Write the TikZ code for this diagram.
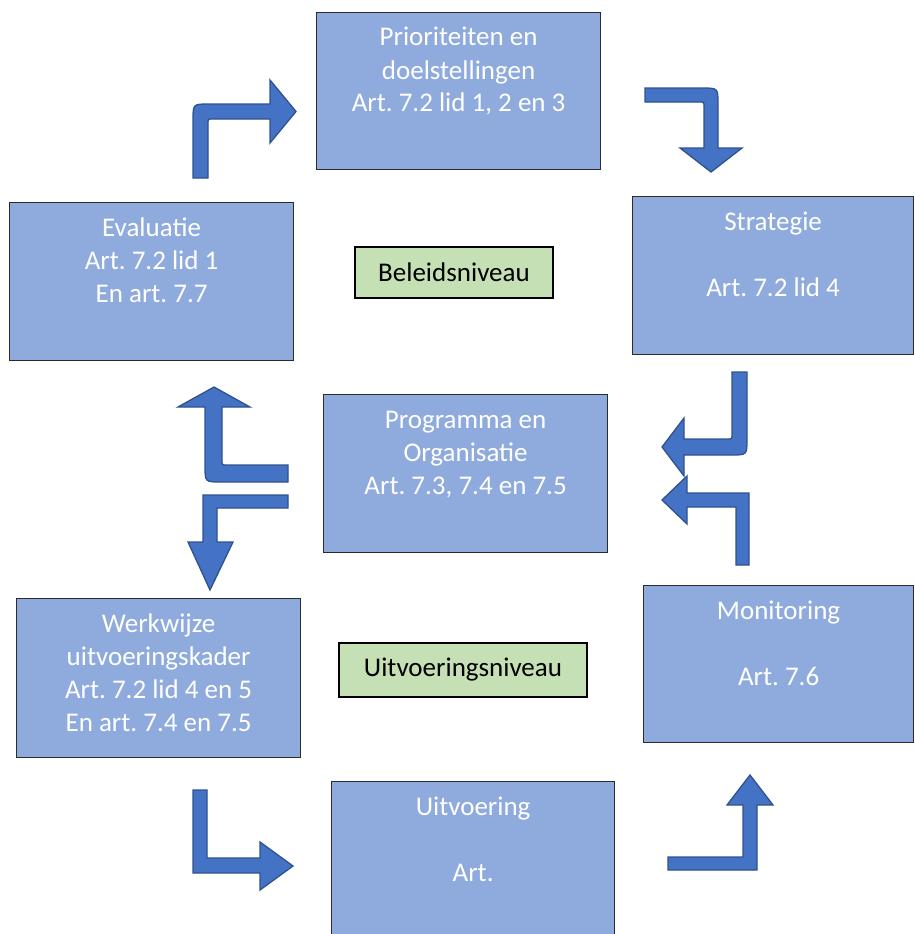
\documentclass[tikz,border=0pt]{standalone}
\usepackage{fontspec}
\setmainfont{Carlito}
\frenchspacing
\definecolor{boxblue}{HTML}{8FAADC}
\definecolor{boxedge}{HTML}{2B2B2B}
\definecolor{arrowblue}{HTML}{4472C4}
\definecolor{arrowedge}{HTML}{2F528F}
\definecolor{levelgreen}{HTML}{C5E0B4}
\begin{document}
\begin{tikzpicture}[x=1pt,y=-1pt,
  bbox/.style={draw=boxedge, line width=1.2pt, fill=boxblue, anchor=north west, inner sep=0pt},
  btext/.style={text=white, anchor=base, inner sep=0pt, font=\fontsize{27}{33}\selectfont},
  level/.style={draw=black, line width=2pt, fill=levelgreen, inner sep=0pt, font=\fontsize{27}{33}\selectfont},
  blockarrow/.style={fill=arrowblue, draw=arrowedge, line width=1.3pt, line join=miter}]
\useasboundingbox (0,0) rectangle (914,934);
\clip (0,0) rectangle (914,934);
% boxes
\node[bbox, minimum width=284pt, minimum height=157pt] (prio) at (316,12) {};
\node[bbox, minimum width=281pt, minimum height=158pt] (strat) at (632,196) {};
\node[bbox, minimum width=284pt, minimum height=158pt] (eval) at (9,202) {};
\node[bbox, minimum width=284pt, minimum height=158pt] (prog) at (323,394) {};
\node[bbox, minimum width=284pt, minimum height=159pt] (werk) at (16,598) {};
\node[bbox, minimum width=270pt, minimum height=157pt] (mon) at (643,585) {};
\node[bbox, minimum width=283pt, minimum height=170pt] (uitv) at (331,781) {};
% texts
\newcommand{\boxlines}[1]{\begin{tabular}[t]{@{}c@{}}#1\end{tabular}}
\node[btext] (priot) at ([yshift=-34pt]prio.north) {\boxlines{Prioriteiten en\\doelstellingen\\Art. 7.2 lid 1, 2 en 3}};
\node[btext] (stratt) at ([yshift=-34pt]strat.north) {\boxlines{Strategie\\ \\Art. 7.2 lid 4}};
\node[btext] (evalt) at ([yshift=-34pt]eval.north) {\boxlines{Evaluatie\\Art. 7.2 lid 1\\En art. 7.7}};
\node[btext] (progt) at ([yshift=-34pt]prog.north) {\boxlines{Programma en\\Organisatie\\Art. 7.3, 7.4 en 7.5}};
\node[btext] (werkt) at ([yshift=-34pt]werk.north) {\boxlines{Werkwijze\\uitvoeringskader\\Art. 7.2 lid 4 en 5\\En art. 7.4 en 7.5}};
\node[btext] (mont) at ([yshift=-34pt]mon.north) {\boxlines{Monitoring\\ \\Art. 7.6}};
\node[btext] (uitvt) at ([yshift=-34pt]uitv.north) {\boxlines{Uitvoering\\ \\Art.}};
% level labels
\node[level, minimum width=198pt, minimum height=51pt] (beleid) at (454,272.5) {Beleidsniveau};
\node[level, minimum width=248pt, minimum height=54pt] (uitvn) at (463,670) {Uitvoeringsniveau};
% block arrows
% Evaluatie -> Prioriteiten
\draw[blockarrow] (193,178) -- (193,120) .. controls (193,104) .. (209,104) -- (270,104) -- (270,80)
  -- (296,111.5) -- (270,143) -- (270,119) -- (213,119) .. controls (208,119) .. (208,124) -- (208,178) -- cycle;
% Prioriteiten -> Strategie
\draw[blockarrow] (645,88) -- (702,88) .. controls (718,88) .. (718,104) -- (718,148) -- (742,148)
  -- (711,172) -- (680,148) -- (704,148) -- (704,107) .. controls (704,102) .. (699,102) -- (645,102) -- cycle;
% Strategie -> Programma
\draw[blockarrow] (732,372) -- (747,372) -- (747,439) .. controls (747,455) .. (731,455) -- (684,455) -- (684,476)
  -- (662,447) -- (684,418) -- (684,439) -- (727,439) .. controls (732,439) .. (732,434) -- cycle;
% Monitoring -> Programma
\draw[blockarrow] (736,565) -- (736,507) -- (687,507) -- (687,524) -- (662,500) -- (687,476) -- (687,493)
  -- (749,493) -- (749,565) -- cycle;
% Programma -> Evaluatie
\draw[blockarrow] (205,407) -- (178,407) -- (214,387) -- (250,407) -- (222,407) -- (222,460)
  .. controls (222,465) .. (227,465) -- (288,465) -- (288,482) -- (221,482) .. controls (205,482) .. (205,466) -- cycle;
% Programma -> Werkwijze
\draw[blockarrow] (288,495) -- (203,495) -- (203,542) -- (188,542) -- (210,590) -- (233,542) -- (217,542)
  -- (217,508) -- (288,508) -- cycle;
% Werkwijze -> Uitvoering
\draw[blockarrow] (193,790) -- (207,790) -- (207,858) -- (260,858) -- (260,842) -- (293,866) -- (260,890)
  -- (260,873) -- (193,873) -- cycle;
% Uitvoering -> Monitoring
\draw[blockarrow] (668,857) -- (743,857) -- (743,805) -- (727,805) -- (750,775) -- (773,805) -- (757,805)
  -- (757,870) -- (668,870) -- cycle;
\end{tikzpicture}
\end{document}
